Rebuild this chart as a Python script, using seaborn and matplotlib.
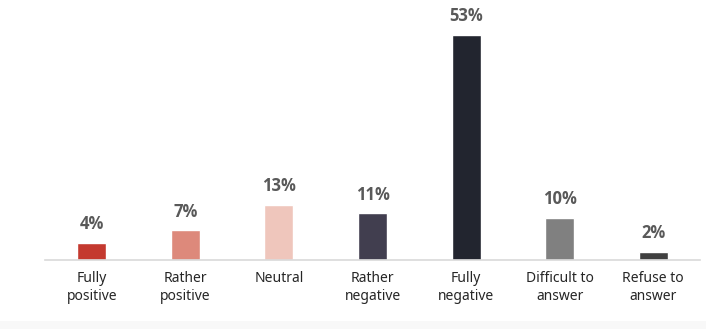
import matplotlib
matplotlib.use("Agg")
import matplotlib.pyplot as plt
import seaborn as sns
import pandas as pd
from matplotlib.patches import Rectangle

categories = ["Fully\npositive", "Rather\npositive", "Neutral", "Rather\nnegative",
              "Fully\nnegative", "Difficult to\nanswer", "Refuse to\nanswer"]
values = [4, 7, 13, 11, 53, 10, 2]
value_labels = ["4%", "7%", "13%", "11%", "53%", "10%", "2%"]
colors = ["#C4392F", "#DD897B", "#EFC6BC", "#413E4F", "#22252F", "#808080", "#404040"]

sns.set_theme(style="white")
plt.rcParams['font.family'] = ['Noto Sans', 'DejaVu Sans']

df = pd.DataFrame({"cat": categories, "val": values})

fig = plt.figure(figsize=(7.06, 3.29), dpi=100)
fig.patch.set_facecolor("white")
fig.patches.append(Rectangle((0, 0), 1, 8 / 329, transform=fig.transFigure,
                             facecolor="#F8F8F8", edgecolor="none", zorder=0))
ax = fig.add_axes([45 / 706, 69 / 329, 655 / 706, 260 / 329])
ax.set_facecolor("none")

sns.barplot(data=df, x="cat", y="val", hue="cat", palette=colors, legend=False,
            width=0.31, saturation=1, ax=ax, order=categories)

ax.set_xlim(-0.5, 6.5)
ax.set_ylim(0, 61.2)
ax.set_xlabel("")
ax.set_ylabel("")
ax.set_yticks([])
for s in ["top", "right", "left"]:
    ax.spines[s].set_visible(False)
ax.spines["bottom"].set_color("#D9D9D9")
ax.spines["bottom"].set_linewidth(1.2)
ax.tick_params(axis="x", length=0, pad=8, labelsize=10, colors="#262626")
for t in ax.get_xticklabels():
    t.set_linespacing(1.25)

for i, (v, lab) in enumerate(zip(values, value_labels)):
    ax.annotate(lab, (i, v), xytext=(0, 7), textcoords="offset points",
                ha="center", va="bottom", fontsize=12, fontweight="bold",
                family=["Open Sans", "DejaVu Sans"], color="#595959")

fig.savefig("out.png", dpi=100)
